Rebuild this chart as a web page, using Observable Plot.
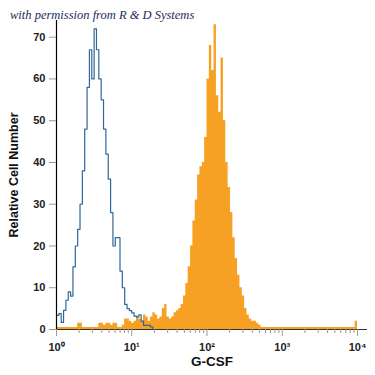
<!DOCTYPE html>
<html><head><meta charset="utf-8">
<script src="https://cdn.jsdelivr.net/npm/d3@7"></script>
<script src="https://cdn.jsdelivr.net/npm/@observablehq/plot@0.6"></script>
<style>
body{margin:0;background:#fff}
#wrap{position:relative;width:375px;height:375px}
#credit{position:absolute;left:10px;top:8px;font-family:"Liberation Serif",serif;font-style:italic;font-size:12.5px;color:#1c2a5a;white-space:nowrap}
</style></head><body>
<div id="wrap"><div id="credit">with permission from R &amp; D Systems</div></div>
<script>
// Histogram channels: 32 bins per decade, from 10^0 to 10^4
const binsPerDecade = 32;
const isotypeCounts = [3.4,3.8,1.7,4.6,7,9,8,15,20,24,30,38,48,58,67,60,72,67,60,55,48,42,36,28,20,22,22,14,10,6,5,4.5,4,3.2,3,3.5,2,1,1,1,0.6,0];
const gcsfCounts = [
  0.5,0.5,0.5,0.5,0.5,0.5,0.5,0.5,0.5,1.5,
  1.5,0.5,0.5,0.5,0.5,0.5,0.5,0.5,1.5,1.5,
  1,1.5,1.5,1,1.5,1.5,0.5,0.5,1,2.5,
  2.5,2,1.5,2,3,2.5,2,3.5,3,2,
  3,4,3.5,2.5,3,5,6,3,2.5,3,
  4,4.5,5,6,8,11,15,20,26,31,
  37,39,40,46,60,68,62,73,56,52,
  65,50,40,34,28,22,17,13,10,8,
  5,3.5,2.5,2,2,1.5,1,0.5,0.5,0.5,
  0.5,0.5,0.5,0.5,0.5,0.5,0.5,0.5,0.5,0.5,
  0.5,0.5,0.5,0.5,0.5,0.5,0.5,0.5,0.5,0.5,
  0.5,0.5,0.5,0.5,0.5,0.5,0.5,0.5,0.5,0.5,
  0.5,0.5,0.5,0.5,0.5,0.5,0.5,2
];
const yTicks = [0,10,20,30,40,50,60,70];
const xMajor = [1,10,100,1000,10000];
const xMajorLabels = ["10\u2070","10\u00B9","10\u00B2","10\u00B3","10\u2074"];
const xMinor = [];
for (const d of [1,10,100,1000]) for (let k = 2; k <= 9; k++) xMinor.push(d*k);

function stepPoints(counts) {
  const pts = [];
  counts.forEach((c, i) => {
    pts.push({x: Math.pow(10, i/binsPerDecade), y: c});
    pts.push({x: Math.pow(10, (i+1)/binsPerDecade), y: c});
  });
  return pts;
}
const orangePts = stepPoints(gcsfCounts);
const bluePts = stepPoints(isotypeCounts);

const font = "'Liberation Sans', Arial, sans-serif";
const narrow = "'Liberation Sans Narrow', 'Liberation Sans', Arial, sans-serif";

const chart = Plot.plot({
  width: 375, height: 375,
  marginLeft: 56, marginRight: 8, marginTop: 20, marginBottom: 46,
  x: {type: "log", domain: [1, 13580]},
  y: {domain: [0, 74]},
  style: {fontFamily: font, fontSize: "11px", fontWeight: "bold", background: "transparent"},
  marks: [
    Plot.area(orangePts, {x1: "x", y1: 0, y2: "y", fill: "#f6a124", curve: "linear"}),
    Plot.line(bluePts, {x: "x", y: "y", stroke: "#30679a", strokeWidth: 1.2}),
    Plot.ruleY([0], {stroke: "#333", strokeWidth: 1.2}),
    Plot.ruleX([1], {stroke: "#000", strokeWidth: 1.2}),
    Plot.axisY({ticks: yTicks, tickSize: 7, tickPadding: 4, label: null, stroke: "#999", fill: "#222"}),
    Plot.axisX({ticks: xMajor, tickSize: 7, tickPadding: 7, label: null, stroke: "#999", fill: "#222",
      tickFormat: (d) => xMajorLabels[xMajor.indexOf(d)]}),
    Plot.axisX({ticks: xMinor, tickSize: 4, tickFormat: () => "", label: null, stroke: "#999"}),
    Plot.text(["G-CSF"], {frameAnchor: "bottom", lineAnchor: "middle", dy: 32, fontFamily: narrow, fontSize: 13.5, fontWeight: "bold", fill: "#111"}),
    Plot.text(["Relative Cell Number"], {frameAnchor: "left", textAnchor: "middle", dx: -43, rotate: -90, fontFamily: narrow, fontSize: 12.5, fontWeight: "bold", fill: "#111"})
  ]
});
chart.style.position = "absolute";
chart.style.left = "0";
chart.style.top = "0";
document.getElementById("wrap").prepend(chart);
</script>
</body></html>
